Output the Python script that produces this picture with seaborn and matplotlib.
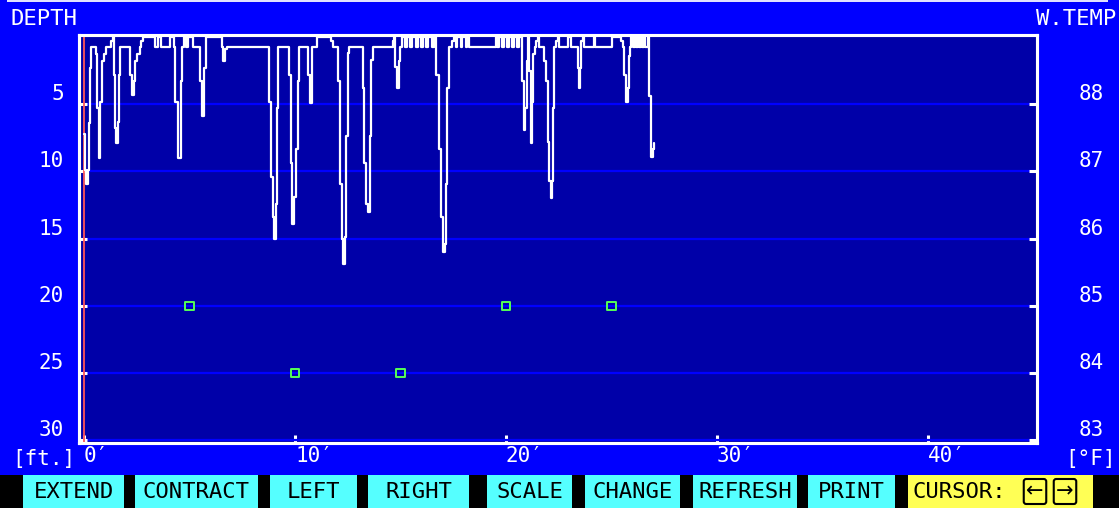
import matplotlib
matplotlib.use("Agg")
import matplotlib.pyplot as plt
import matplotlib.transforms as mtransforms
from matplotlib.patches import Rectangle
import pandas as pd
import seaborn as sns

# ---- values ----
distance_ft = [
    0.00, 0.05, 0.09, 0.19, 0.24, 0.28, 0.33, 0.57, 0.62, 0.71,
    0.76, 0.85, 0.95, 1.04, 1.28, 1.37, 1.42, 1.47, 1.52, 1.61,
    1.66, 1.71, 2.18, 2.27, 2.37, 2.42, 2.51, 2.65, 2.70, 2.80,
    3.36, 3.51, 3.65, 4.08, 4.27, 4.31, 4.45, 4.60, 4.64, 4.74,
    4.83, 4.93, 5.17, 5.50, 5.59, 5.69, 5.78, 6.54, 6.59, 6.68,
    6.78, 8.77, 8.86, 8.96, 9.00, 9.10, 9.15, 9.19, 9.72, 9.81,
    9.86, 9.95, 10.05, 10.14, 10.19, 10.62, 10.71, 10.81, 11.04, 11.71,
    11.80, 12.04, 12.13, 12.23, 12.27, 12.37, 12.42, 12.51, 12.56, 13.22,
    13.27, 13.36, 13.46, 13.55, 13.60, 13.70, 14.64, 14.69, 14.74, 14.83,
    14.93, 14.98, 15.07, 15.21, 15.31, 15.45, 15.55, 15.73, 15.83, 15.97,
    16.07, 16.21, 16.30, 16.49, 16.59, 16.70, 16.82, 16.92, 17.01, 17.11,
    17.16, 17.20, 17.30, 17.44, 17.54, 17.63, 17.68, 17.87, 17.91, 18.10,
    18.15, 18.25, 19.53, 19.57, 19.67, 19.81, 19.91, 20.05, 20.14, 20.28,
    20.38, 20.52, 20.62, 20.76, 20.85, 20.90, 21.00, 21.04, 21.09, 21.18,
    21.23, 21.28, 21.37, 21.42, 21.52, 21.56, 21.80, 21.90, 21.99, 22.04,
    22.13, 22.18, 22.23, 22.27, 22.37, 22.46, 22.51, 22.94, 23.08, 23.41,
    23.46, 23.51, 23.55, 23.65, 23.70, 24.17, 24.22, 25.02, 25.45, 25.55,
    25.59, 25.69, 25.78, 25.83, 25.88, 25.92, 26.02, 26.11, 26.16, 26.26,
    26.30, 26.40, 26.45, 26.54, 26.59, 26.73, 26.78, 26.87, 26.97, 27.01,
]
depth_ft = [
    7.2, 9.9, 10.9, 9.9, 6.4, 2.3, 0.75, 1.3, 5.3, 9.0,
    4.8, 1.8, 1.25, 0.75, 0.3, 0.0, 2.8, 6.8, 7.9, 6.3,
    2.8, 0.75, 2.8, 4.3, 3.3, 1.8, 1.25, 0.75, 0.3, 0.0,
    0.75, 0.0, 0.75, 0.0, 0.75, 4.8, 9.0, 3.3, 0.75, 0.0,
    0.75, 0.0, 0.75, 3.3, 5.9, 2.3, 0.0, 0.75, 1.8, 0.9,
    0.75, 4.8, 10.4, 13.4, 15.0, 12.4, 5.3, 0.75, 2.8, 9.4,
    13.9, 11.9, 8.3, 3.3, 0.75, 2.8, 4.9, 0.75, 0.0, 0.3,
    0.75, 3.3, 10.9, 15.0, 16.9, 14.9, 7.4, 1.2, 0.75, 3.8,
    9.4, 12.4, 13.0, 7.4, 1.7, 0.75, 0.3, 0.0, 2.2, 3.8,
    1.8, 0.75, 0.0, 0.75, 0.0, 0.75, 0.0, 0.75, 0.0, 0.75,
    0.0, 0.75, 0.0, 0.75, 0.0, 2.8, 8.3, 13.4, 16.0, 15.4,
    10.9, 3.8, 0.75, 0.3, 0.0, 0.75, 0.0, 0.75, 0.0, 0.75,
    0.0, 0.75, 0.0, 0.75, 0.0, 0.75, 0.0, 0.75, 0.0, 0.75,
    0.0, 0.75, 0.0, 3.3, 6.9, 5.3, 1.8, 0.0, 2.5, 7.9,
    4.8, 1.25, 0.75, 0.3, 0.0, 0.75, 1.8, 3.3, 7.8, 10.7,
    12.0, 10.7, 5.3, 0.75, 0.3, 0.0, 0.75, 0.0, 0.75, 2.3,
    3.8, 2.3, 0.3, 0.0, 0.75, 0.0, 0.75, 0.0, 0.3, 0.75,
    2.8, 4.8, 3.8, 1.4, 0.75, 0.0, 0.75, 0.0, 0.75, 0.0,
    0.75, 0.0, 0.75, 0.0, 0.75, 0.0, 4.4, 8.9, 8.3, 7.9,
]
temp_distance_ft = [5, 10, 15, 20, 25]
water_temp_f = [85, 84, 84, 85, 85]
cursor_ft = 0

depth_ticks = [5, 10, 15, 20, 25, 30]
temp_ticks = [83, 84, 85, 86, 87, 88]
dist_ticks = [0, 10, 20, 30, 40]
buttons = ["EXTEND", "CONTRACT", "LEFT", "RIGHT", "SCALE", "CHANGE", "REFRESH", "PRINT"]

# ---- screen look ----
W, H = 1119, 514
BLUE, NAVY = "#0000FF", "#0000A8"
CYAN, YELLOW, GREEN, RED = "#55FFFF", "#FFFF55", "#55FF55", "#FF5555"
FONT = ["DejaVu Sans Mono", "DejaVu Sans"]

sns.set_theme(style="dark")
plt.rcParams["font.family"] = FONT

fig = plt.figure(figsize=(W / 100, H / 100), dpi=100, facecolor=BLUE)
ax = fig.add_axes([79 / W, 71 / H, 958 / W, 408 / H])
ax.set_facecolor(NAVY)

trace = pd.DataFrame({"dist": distance_ft, "depth": depth_ft})
ax.axvline(cursor_ft, color=RED, lw=1.3, zorder=4)
sns.lineplot(data=trace, x="dist", y="depth", ax=ax, color="white", lw=1.6,
             drawstyle="steps-post", estimator=None, sort=False, zorder=5)

ax.set_xlim(-0.24, 45.17)
ax.set_ylim(30.2, -0.15)
ax.set_xlabel("")
ax.set_ylabel("")
ax.set_yticks(depth_ticks)
ax.set_yticklabels([str(d) for d in depth_ticks])
ax.set_xticks(dist_ticks)
ax.set_xticklabels([f"{d}\u2032" for d in dist_ticks], ha="left")
ax.yaxis.grid(True, color=BLUE, lw=1.6)
ax.xaxis.grid(False)
ax.tick_params(axis="both", direction="in", length=5.5, width=2.2, color="white",
               labelcolor="white", bottom=True, left=True)
ax.tick_params(axis="y", pad=11, labelsize=15)
ax.tick_params(axis="x", pad=2, labelsize=15)

# water temperature on the right scale (88 F lines up with 5 ft)
ax2 = ax.twinx()
ax2.set_ylim(89 - 30.2 / 5, 89 + 0.15 / 5)
temps = pd.DataFrame({"dist": temp_distance_ft, "temp": water_temp_f})
sns.scatterplot(data=temps, x="dist", y="temp", ax=ax2, marker="s", s=34,
                fc="none", ec=GREEN, linewidth=1.4, zorder=6)
ax2.collections[0].set_facecolor("none")
ax2.set_ylabel("")
ax2.set_yticks(temp_ticks)
ax2.set_yticklabels([str(t) for t in temp_ticks])
ax2.grid(False)
ax2.tick_params(axis="y", direction="in", length=5.5, width=2.2, color="white",
                labelcolor="white", right=True, pad=30, labelsize=15)

for a in (ax, ax2):
    for sp in a.spines.values():
        sp.set_color("white")
        sp.set_linewidth(2.2)

# labels sit just above their grid lines
lift = mtransforms.ScaledTranslation(0, 0.12, fig.dpi_scale_trans)
for lab in ax.get_yticklabels() + ax2.get_yticklabels():
    lab.set_transform(lab.get_transform() + lift)

txt = dict(color="white", va="center")
fig.text(10 / W, 1 - 19 / H, "DEPTH", ha="left", fontsize=16, **txt)
fig.text(1116 / W, 1 - 19 / H, "W.TEMP", ha="right", fontsize=16, **txt)
fig.text(12 / W, 1 - 459 / H, "[ft.]", ha="left", fontsize=15, **txt)
fig.text(1116 / W, 1 - 459 / H, "[°F]", ha="right", fontsize=15, **txt)

# window edge and function-key bar
fig.add_artist(Rectangle((7 / W, 1 - 2 / H), 1101 / W, 2 / H, transform=fig.transFigure,
                         color="#E0E0FF", lw=0))
fig.add_artist(Rectangle((0, 0), 1, 6 / H, transform=fig.transFigure, color="white", lw=0))
fig.add_artist(Rectangle((0, 6 / H), 1, 33 / H, transform=fig.transFigure, color="black", lw=0))
spans = [(23, 124), (135, 258), (270, 357), (368, 469), (487, 572), (585, 680), (693, 797), (808, 895)]
for lab, (x0, x1) in zip(buttons, spans):
    fig.add_artist(Rectangle((x0 / W, 6 / H), (x1 - x0) / W, 33 / H,
                             transform=fig.transFigure, color=CYAN, lw=0))
    fig.text((x0 + x1) / 2 / W, 22.5 / H, lab, ha="center", va="center",
             fontsize=16, color="black")
fig.add_artist(Rectangle((908 / W, 6 / H), 185 / W, 33 / H,
                         transform=fig.transFigure, color=YELLOW, lw=0))
fig.text(912 / W, 22.5 / H, "CURSOR:", ha="left", va="center", fontsize=16, color="black")
for xc, arrow in ((1035, "\u2190"), (1065, "\u2192")):
    fig.text(xc / W, 22.5 / H, arrow, ha="center", va="center", fontsize=15, color="black",
             family=["DejaVu Sans"],
             bbox=dict(boxstyle="round,pad=0.12", fc="none", ec="black", lw=1.5))

fig.savefig("out.png", dpi=100, facecolor=BLUE)
plt.close(fig)
